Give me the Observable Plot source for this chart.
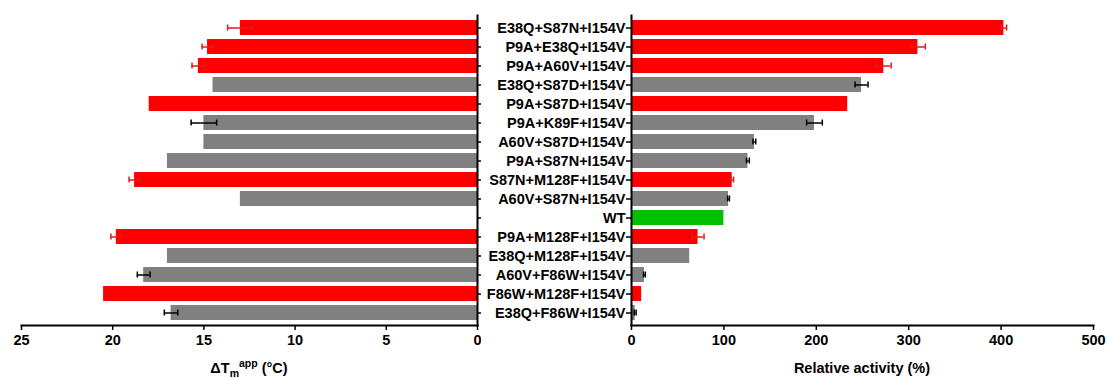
<!DOCTYPE html>
<html><head><meta charset="utf-8">
<script src="https://cdn.jsdelivr.net/npm/d3@7"></script>
<script src="https://cdn.jsdelivr.net/npm/@observablehq/plot@0.6"></script>
<style>
body{margin:0;background:#fff;}
#wrap{display:flex;width:1108px;height:378px;overflow:hidden;}
#wrap svg{flex-shrink:0;max-width:none !important;}
</style></head><body><div id="wrap"></div>
<script>
const categories = ["E38Q+S87N+I154V","P9A+E38Q+I154V","P9A+A60V+I154V","E38Q+S87D+I154V","P9A+S87D+I154V","P9A+K89F+I154V","A60V+S87D+I154V","P9A+S87N+I154V","S87N+M128F+I154V","A60V+S87N+I154V","WT","P9A+M128F+I154V","E38Q+M128F+I154V","A60V+F86W+I154V","F86W+M128F+I154V","E38Q+F86W+I154V"];
const groups = ["improved","improved","improved","other","improved","other","other","other","improved","other","wild type","improved","other","other","improved","other"];
const deltaTm = [13.0,14.8,15.3,14.5,18.0,15.0,15.0,17.0,18.8,13.0,null,19.8,17.0,18.3,20.5,16.8];
const deltaTmErr = [0.7,0.3,0.35,0,0,0.7,0,0,0.3,0,0,0.3,0,0.35,0,0.37];
const activity = [403,310,273,249,234,198,133,126,109,105,100,72,63,14,11,4];
const activityErr = [3,8,8,7,0,8.5,1.5,1.5,1.5,1,0,6.5,0,1,0,1];
const tmTicks = [0,5,10,15,20,25];
const actTicks = [0,100,200,300,400,500];

const rows = categories.map((c,i)=>({name:c, group:groups[i], tm:deltaTm[i], tmErr:deltaTmErr[i], act:activity[i], actErr:activityErr[i]}));
const colorScale = {type:"ordinal", domain:["improved","other","wild type"], range:["#ff0000","#808080","#00c000"]};
const errColor = g => g === "improved" ? "#e31a1a" : "#000000";

const font = {fontFamily:"'Liberation Sans', Arial, sans-serif", fontSize:"14.5px", fontWeight:"bold", color:"#000", background:"#fff", overflow:"visible"};
const H=378, MT=15, MB=53;
const yScale = {domain:categories, paddingInner:0.22, paddingOuter:0.17, label:null};

function errMarks(data, v, e) {
  const d = data.filter(r => r[v] != null && r[e] > 0);
  const out = [];
  for (const g of ["improved","other"]) {
    const dd = d.filter(r => r.group === g);
    const c = errColor(g);
    out.push(Plot.ruleY(dd, {y:"name", x1:r=>r[v]-r[e], x2:r=>r[v]+r[e], stroke:c, strokeWidth:1.5}));
    out.push(Plot.tickX(dd, {y:"name", x:r=>r[v]-r[e], stroke:c, strokeWidth:1.5, insetTop:4.5, insetBottom:4.5}));
    out.push(Plot.tickX(dd, {y:"name", x:r=>r[v]+r[e], stroke:c, strokeWidth:1.5, insetTop:4.5, insetBottom:4.5}));
  }
  return out;
}

const left = Plot.plot({
  width:481, height:H, marginLeft:21, marginRight:4, marginTop:MT, marginBottom:MB,
  style: font,
  x:{domain:[0,25], reverse:true, label:null},
  y:yScale,
  color:colorScale,
  marks:[
    Plot.barX(rows.filter(d=>d.tm!=null), {x1:0, x2:"tm", y:"name", fill:"group"}),
    ...errMarks(rows, "tm", "tmErr"),
    Plot.axisY({anchor:"right", tickSize:4, tickFormat:()=>"", strokeWidth:1.5, label:null}),
    Plot.axisX({ticks:tmTicks, tickSize:5, tickPadding:4, tickFormat:d=>String(d), strokeWidth:1.5, label:null}),
    Plot.frame({anchor:"bottom", strokeWidth:2}),
    Plot.frame({anchor:"right", strokeWidth:2})
  ]
});

const right = Plot.plot({
  width:627, height:H, marginLeft:150, marginRight:15, marginTop:MT, marginBottom:MB,
  style: font,
  x:{domain:[0,500], label:null},
  y:yScale,
  color:colorScale,
  marks:[
    Plot.barX(rows, {x1:0, x2:"act", y:"name", fill:"group"}),
    ...errMarks(rows, "act", "actErr"),
    Plot.axisY({anchor:"left", tickSize:5, tickPadding:1, strokeWidth:1.5, label:null}),
    Plot.axisX({ticks:actTicks, tickSize:5, tickPadding:4, tickFormat:d=>String(d), strokeWidth:1.5, label:null}),
    Plot.frame({anchor:"bottom", strokeWidth:2}),
    Plot.frame({anchor:"left", strokeWidth:2})
  ]
});

const wrap = document.getElementById("wrap");
wrap.appendChild(left);
wrap.appendChild(right);

// axis titles
const lx = left.scale("x");
const t1 = d3.select(left).append("text")
  .attr("x", (lx.apply(0)+lx.apply(25))/2).attr("y", 373)
  .attr("text-anchor","middle").style("font-size","14.5px").style("font-weight","bold");
t1.append("tspan").text("ΔT");
t1.append("tspan").attr("dy",4).style("font-size","10.5px").text("m");
t1.append("tspan").attr("dy",-10).style("font-size","10.5px").text("app");
t1.append("tspan").attr("dy",6).text(" (°C)");

const rx = right.scale("x");
d3.select(right).append("text")
  .attr("x", (rx.apply(0)+rx.apply(500))/2).attr("y", 373)
  .attr("text-anchor","middle").style("font-size","14.5px").style("font-weight","bold")
  .text("Relative activity (%)");
</script></body></html>
